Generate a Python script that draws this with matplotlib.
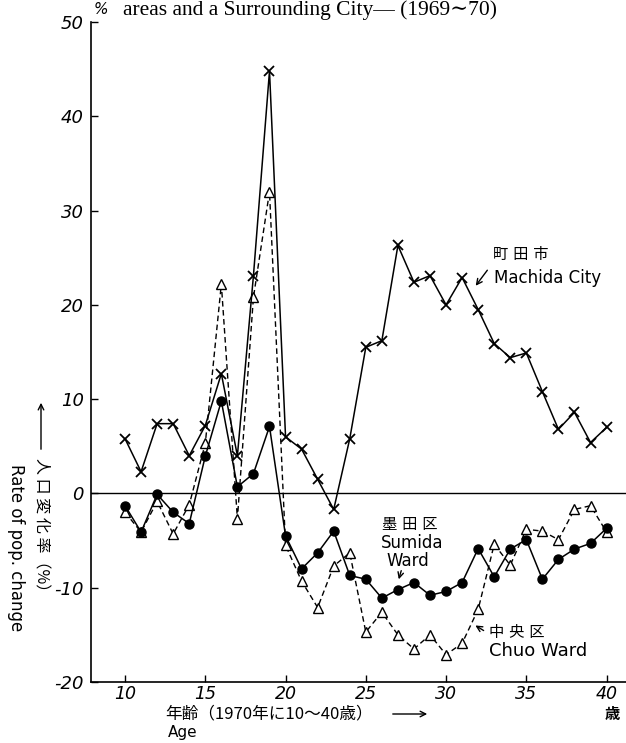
import numpy as np
import matplotlib.pyplot as plt

plt.rcParams['font.family'] = ['DejaVu Sans', 'Noto Sans CJK JP']

# age in 1970, population change rate 1969-70 (%)
ages = np.arange(10, 41)
machida = [5.8, 2.3, 7.4, 7.4, 4.0, 7.2, 12.7, 4.0, 23.1, 44.8,
           6.0, 4.7, 1.5, -1.7, 5.8, 15.5, 16.2, 26.3, 22.4, 23.1,
           20.0, 22.9, 19.5, 15.9, 14.4, 14.9, 10.8, 6.8, 8.6, 5.4, 7.0]
sumida = [-1.3, -4.1, -0.1, -2.0, -3.2, 3.95, 9.8, 0.7, 2.1, 7.1,
          -4.5, -8.0, -6.3, -4.0, -8.7, -9.1, -11.1, -10.2, -9.45, -10.8,
          -10.4, -9.45, -5.85, -8.85, -5.9, -4.9, -9.1, -7.0, -5.9, -5.3, -3.7]
chuo = [-2.0, -4.1, -0.85, -4.3, -1.2, 5.3, 22.2, -2.7, 20.8, 32.0,
        -5.5, -9.3, -12.1, -7.7, -6.3, -14.7, -12.6, -15.0, -16.5, -15.0,
        -17.1, -15.9, -12.3, -5.4, -7.6, -3.8, -4.0, -4.9, -1.7, -1.3, -4.1]

xticks = [10, 15, 20, 25, 30, 35, 40]
yticks = [-20, -10, 0, 10, 20, 30, 40, 50]

W, H = 626, 743
fig = plt.figure(figsize=(W / 100, H / 100), dpi=100)
ax = fig.add_axes([91 / W, 1 - 682 / H, (W - 91) / W, (682 - 22) / H])

ax.plot(ages, chuo, color='black', lw=1.0, ls=(0, (4, 2.5)),
        marker='^', ms=6.5, mfc='white', mec='black', mew=1.0, zorder=2)
ax.plot(ages, sumida, color='black', lw=1.1,
        marker='o', ms=6.5, mfc='black', mec='black', zorder=3)
ax.plot(ages, machida, color='black', lw=1.1,
        marker='x', ms=7, mew=1.3, zorder=4)

ax.axhline(0, color='black', lw=1.0, zorder=1)

ax.set_xlim(7.88, 41.21)
ax.set_ylim(-20, 50)
ax.spines['top'].set_visible(False)
ax.spines['right'].set_visible(False)
ax.spines['left'].set_linewidth(1.2)
ax.spines['bottom'].set_linewidth(1.2)

ax.set_xticks(xticks)
ax.set_xticklabels([str(t) for t in xticks], fontsize=12.5, style='italic')
ax.set_yticks(yticks)
ax.set_yticklabels([str(t) for t in yticks], fontsize=13, style='italic')
ax.tick_params(direction='in', length=5, width=1, pad=5)
ax.tick_params(axis='x', pad=2)

# small percent sign by the top label
fig.text(101 / W, 1 - 9 / H, '%', fontsize=11, style='italic',
         ha='center', va='center')

fig.text(123 / W, 1 - 10 / H, 'areas and a Surrounding City\u2014 (1969\u223c70)',
         family=['Liberation Serif', 'DejaVu Serif'], fontsize=15.5,
         ha='left', va='center')

# y axis caption, written sideways
fig.text(41 / W, 1 - 529 / H, '人 口 変 化 率（%）', rotation=-90, fontsize=11.5,
         family=['Noto Sans CJK JP'], ha='center', va='center')
fig.text(16 / W, 1 - 548 / H, 'Rate of pop. change', rotation=-90, fontsize=12,
         ha='center', va='center')
ax.annotate('', xy=(41, H - 400), xytext=(41, H - 452), xycoords='figure pixels',
            textcoords='figure pixels',
            arrowprops=dict(arrowstyle='->', color='black', lw=1))

# x axis caption
fig.text(165 / W, 1 - 714 / H, '年齢（1970年に10～40歳）', fontsize=12,
         family=['Noto Sans CJK JP'], ha='left', va='center')
ax.annotate('', xy=(430, H - 714), xytext=(390, H - 714), xycoords='figure pixels',
            textcoords='figure pixels',
            arrowprops=dict(arrowstyle='->', color='black', lw=1))
fig.text(168 / W, 1 - 732 / H, 'Age', fontsize=11, ha='left', va='center')
fig.text(612 / W, 1 - 714 / H, '歳', fontsize=11, ha='center', va='center',
         family=['Noto Sans CJK JP'], weight='bold')

# series labels
fig.text(493 / W, 1 - 255 / H, '町 田 市', fontsize=11, ha='left', va='center')
fig.text(494 / W, 1 - 278 / H, 'Machida City', fontsize=12, ha='left', va='center')
ax.annotate('', xy=(474, H - 288), xytext=(489, H - 268), xycoords='figure pixels',
            textcoords='figure pixels',
            arrowprops=dict(arrowstyle='->', color='black', lw=1))

fig.text(382 / W, 1 - 525 / H, '墨 田 区', fontsize=11, ha='left', va='center')
fig.text(381 / W, 1 - 543 / H, 'Sumida', fontsize=12, ha='left', va='center')
fig.text(386 / W, 1 - 561 / H, 'Ward', fontsize=12, ha='left', va='center')
ax.annotate('', xy=(398, H - 582), xytext=(402, H - 568), xycoords='figure pixels',
            textcoords='figure pixels',
            arrowprops=dict(arrowstyle='->', color='black', lw=1))

fig.text(489 / W, 1 - 632 / H, '中 央 区', fontsize=11, ha='left', va='center')
fig.text(489 / W, 1 - 651 / H, 'Chuo Ward', fontsize=13, ha='left', va='center')
ax.annotate('', xy=(473, H - 624), xytext=(486, H - 632), xycoords='figure pixels',
            textcoords='figure pixels',
            arrowprops=dict(arrowstyle='->', color='black', lw=1))

fig.savefig('out.png', dpi=100)
